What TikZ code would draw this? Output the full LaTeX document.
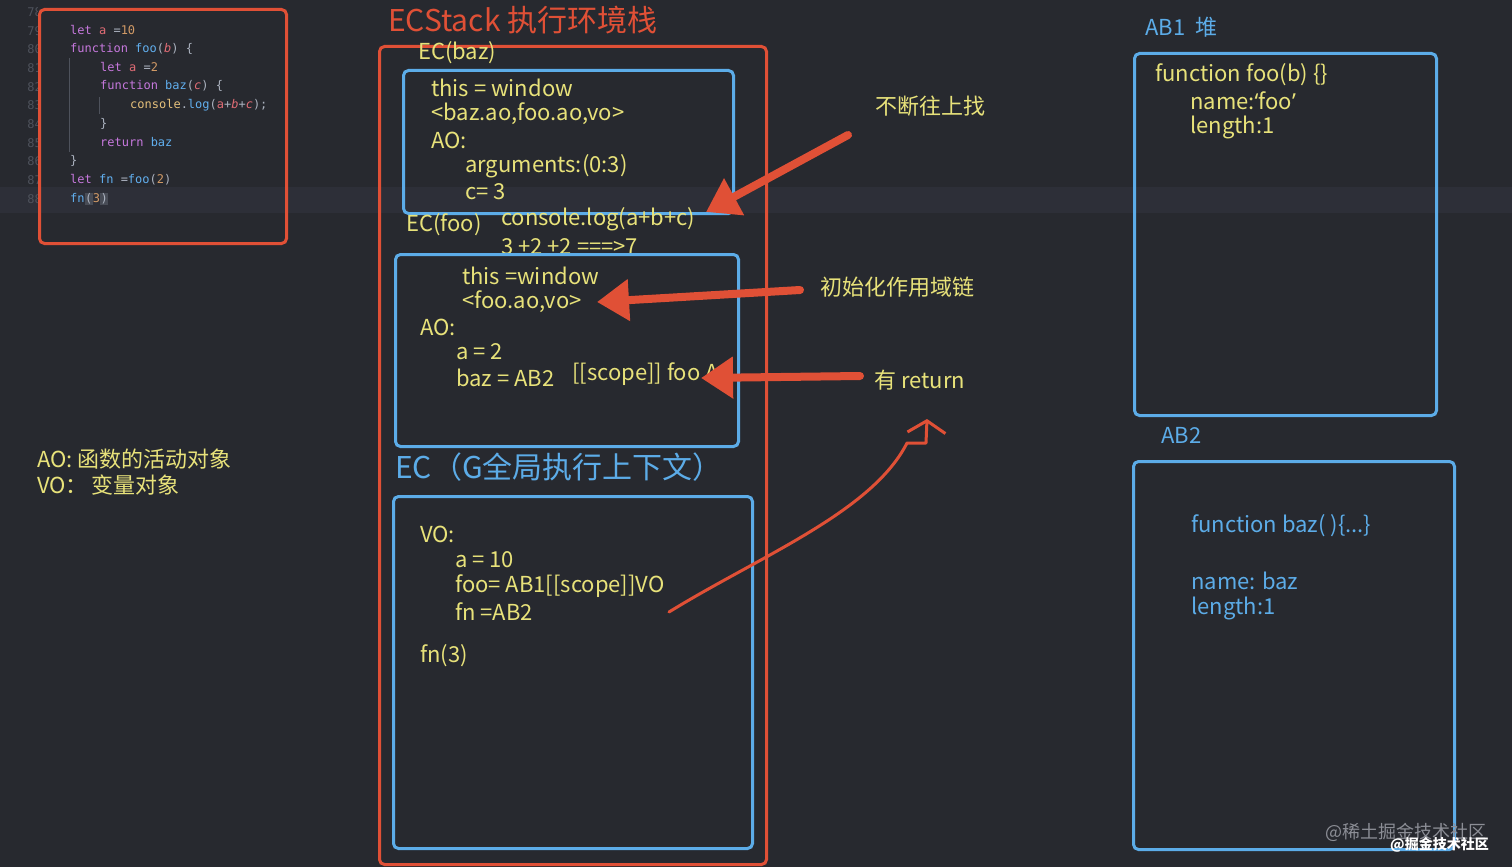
\documentclass[tikz,border=0pt]{standalone}
\usepackage{fontspec}
\setmainfont{Noto Sans CJK SC}
\setmonofont{DejaVu Sans Mono}
\newfontfamily\latf{Noto Sans}
\usepackage{tikz}
\usetikzlibrary{arrows.meta}
\definecolor{bgC}{RGB}{39,41,47}
\definecolor{bandC}{RGB}{45,47,56}
\definecolor{redC}{RGB}{224,80,54}
\definecolor{bluC}{RGB}{92,172,232}
\definecolor{yelC}{RGB}{232,226,122}
\definecolor{numC}{RGB}{78,82,92}
\definecolor{kwC}{RGB}{198,120,221}
\definecolor{varC}{RGB}{224,108,117}
\definecolor{numlC}{RGB}{209,154,102}
\definecolor{fnC}{RGB}{97,175,239}
\definecolor{clsC}{RGB}{229,192,123}
\definecolor{plC}{RGB}{171,178,191}
\definecolor{hlC}{RGB}{72,76,86}
\definecolor{wmC}{RGB}{140,142,150}
\newcommand{\ckw}[1]{\textcolor{kwC}{#1}}
\newcommand{\cvar}[1]{\textcolor{varC}{#1}}
\newcommand{\cnum}[1]{\textcolor{numlC}{#1}}
\newcommand{\cfun}[1]{\textcolor{fnC}{#1}}
\newcommand{\ccls}[1]{\textcolor{clsC}{#1}}
\newcommand{\chl}[1]{{\setlength{\fboxsep}{0.5pt}\colorbox{hlC}{#1}}}
\tikzstyle{nY}=[text=yelC, anchor=west, inner sep=0pt, font=\fontsize{22}{26}\selectfont]
\tikzstyle{nB}=[nY, text=bluC]
\tikzstyle{nT}=[nY, font=\fontsize{30}{34}\selectfont]
\tikzstyle{nC}=[anchor=west, inner sep=0pt, text=plC, font=\ttfamily\fontsize{12}{14}\selectfont]
\tikzstyle{bRed}=[draw=redC, line width=3pt, rounded corners=5pt, inner sep=0pt, anchor=north west]
\tikzstyle{bBlue}=[bRed, draw=bluC]
\tikzstyle{eRed}=[draw=redC, line width=8pt, line cap=round, -{Triangle[length=32pt 0, width=40pt 0]}]
\tikzstyle{eThin}=[draw=redC, line width=3pt, line cap=round, line join=round, -{Straight Barb[length=12pt 0, width=38pt 0]}]

\begin{document}
\begin{tikzpicture}[x=1pt, y=-1pt]
    % background
    \fill[bgC] (0,0) rectangle (1512,867);
    \fill[bandC] (0,187) rectangle (1512,213);
    % source code
    \begin{scope}
        \clip (0,0) rectangle (37,250);
        \foreach \n in {78,...,88}
            \draw (42,{12+(\n-78)*18.7}) node[nC, text=numC, anchor=east] (ln\n) {\n};
    \end{scope}
    \draw[numC, line width=0.6pt] (69,58) -- (69,152) (99,97) -- (99,114);
    \draw (70,30) node[nC] (c1) {\ckw{let} \cvar{a} =\cnum{10}};
    \draw (70,49) node[nC] (c2) {\ckw{function} \cfun{foo}(\cvar{\itshape b}) \{};
    \draw (100,67) node[nC] (c3) {\ckw{let} \cvar{a} =\cnum{2}};
    \draw (100,86) node[nC] (c4) {\ckw{function} \cfun{baz}(\cvar{\itshape c}) \{};
    \draw (130,105) node[nC] (c5) {\ccls{console}.\cfun{log}(\cvar{a}+\cvar{\itshape b}+\cvar{\itshape c});};
    \draw (100,124) node[nC] (c6) {\}};
    \draw (100,142) node[nC] (c7) {\ckw{return} \cfun{baz}};
    \draw (70,161) node[nC] (c8) {\}};
    \draw (70,180) node[nC] (c9) {\ckw{let} \cfun{fn} =\cfun{foo}(\cnum{2})};
    \draw (70,199) node[nC] (c10) {\cfun{fn}\chl{(}\cnum{3}\chl{)}};
    \draw (38,8) node[bRed, minimum width=247pt, minimum height=234pt] (code) {};
    % legend
    \draw (37,459) node[nY] (lgA) {AO: 函数的活动对象};
    \draw (37,485) node[nY] (lgV) {VO：\,变量对象};
    % ECStack
    \draw (388,20) node[nT, text=redC] (stk) {ECStack 执行环境栈};
    \draw (378,45) node[bRed, minimum width=387pt, minimum height=818pt] (ecs) {};
    \draw (418,53) node[nY] (ecbaz) {EC(baz)};
    \draw (431,88) node[nY] (bz1) {this = window};
    \draw (431,114) node[nY] (bz2) {<baz.ao,foo.ao,vo>};
    \draw (431,140) node[nY] (bz3) {AO:};
    \draw (465,166) node[nY] (bz4) {arguments:(0:3)};
    \draw (465,192) node[nY] (bz5) {c= 3};
    \draw (402,69) node[bBlue, minimum width=330pt, minimum height=143pt] (bazbox) {};
    \draw (406,225) node[nY] (ecfoo) {EC(foo)};
    \draw (501,219) node[nY] (lg1) {console.log(a+b+c)};
    \draw (501,247) node[nY] (lg2) {3 +2 +2 ===>7};
    \draw (462,276) node[nY] (fo1) {this =window};
    \draw (462,302) node[nY] (fo2) {<foo.ao,vo>};
    \draw (420,327) node[nY] (fo3) {AO:};
    \draw (456,352) node[nY] (fo4) {a = 2};
    \draw (456,378) node[nY] (fo5) {baz = AB2};
    \draw (572,374) node[nY] (fo6) {[[scope]] foo AO};
    \draw (394,253) node[bBlue, minimum width=343pt, minimum height=192pt] (foobox) {};
    \draw (395,467) node[nT, text=bluC] (ecg) {EC（G全局执行上下文）};
    \draw (420,534) node[nY] (g1) {VO:};
    \draw (455,560) node[nY] (g2) {a = 10};
    \draw (455,586) node[nY] (g3) {foo= AB1[[scope]]VO};
    \draw (455,612) node[nY] (g4) {fn =AB2};
    \draw (420,656) node[nY] (g5) {fn(3)};
    \draw (392,495) node[bBlue, minimum width=359pt, minimum height=352pt] (gbox) {};
    % heap
    \draw (1145,27) node[nB] (ab1) {AB1\ \ 堆};
    \draw (1155,75) node[nY] (h1) {function foo(b) \{\}};
    \draw (1190,101) node[nY] (h2) {name:{\latf ‘}foo{\latf ’}};
    \draw (1190,127) node[nY] (h3) {length:1};
    \draw (1133,52) node[bBlue, minimum width=302pt, minimum height=362pt] (ab1box) {};
    \draw (1161,435) node[nB] (ab2) {AB2};
    \draw (1191,526) node[nB] (k1) {function baz( )\{...\}};
    \draw (1191,581) node[nB] (k2) {name: baz};
    \draw (1191,608) node[nB] (k3) {length:1};
    \draw (1132,460) node[bBlue, minimum width=321pt, minimum height=388pt] (ab2box) {};
    % notes and arrows
    \draw (875,106) node[nY] (up) {不断往上找};
    \draw (820,287) node[nY] (init) {初始化作用域链};
    \draw (874,380) node[nY] (ret) {有 return};
    \coordinate (a1s) at (848,135);
    \coordinate (a1e) at (706,212);
    \coordinate (a2s) at (800,290);
    \coordinate (a2e) at (597,302);
    \coordinate (a3s) at (860,376);
    \coordinate (a3e) at (701,378);
    \coordinate (r0) at (669,612);
    \coordinate (r1) at (927,419);
    \path (a1s) edge[eRed] (a1e)
          (a2s) edge[eRed] (a2e)
          (a3s) edge[eRed] (a3e);
    \draw[eThin] (r0) .. controls (760,556) and (872,512) .. (907,443) -- (926,443) -- (r1);
    % watermark
    \draw (1325,832) node[nY, text=wmC, font=\fontsize{18}{20}\selectfont] (wm1) {@稀土掘金技术社区};
    \draw (1390,845) node[nY, text=white, font=\bfseries\fontsize{14}{16}\selectfont] (wm2) {@掘金技术社区};
\end{tikzpicture}
\end{document}
